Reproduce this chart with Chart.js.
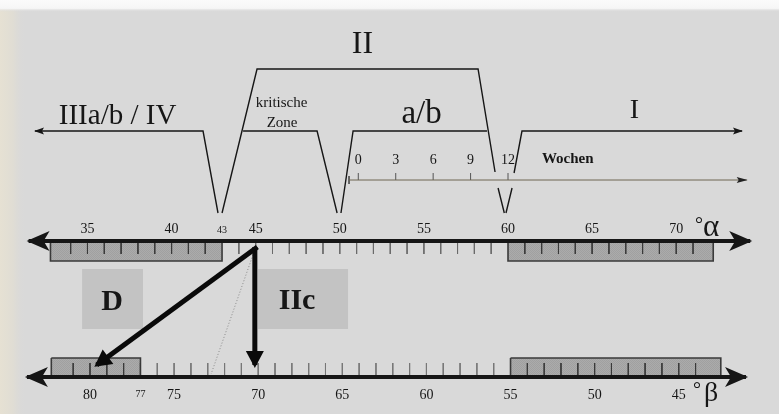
<!DOCTYPE html>
<html>
<head>
<meta charset="utf-8">
<script src="https://cdn.jsdelivr.net/npm/chart.js@4.4.1/dist/chart.umd.min.js"></script>
<style>
  html, body { margin: 0; padding: 0; background: #d9d9d9; }
  #wrap { width: 779px; height: 414px; position: relative; }
</style>
</head>
<body>
<div id="wrap"><canvas id="diagram"></canvas></div>
<script>
// tick labels of the two angle scales (alpha on top, beta below)
const alphaTicks = [35, 40, 43, 45, 50, 55, 60, 65, 70];
const betaTicks = [80, 77, 75, 70, 65, 60, 55, 50, 45];
const weekTicks = [0, 3, 6, 9, 12];

// stage borders on the alpha scale and the stage names
const zoneLimits = [43, 50, 60];
const stageNames = ['IIIa/b / IV', 'kritische Zone', 'a/b', 'I', 'II'];

// shaded ranges on both scales
const alphaRanges = [[32.8, 43], [60, 72.2]];
const betaRanges = [[82.3, 77], [55, 42.5]];

// projection from alpha 45 down to beta
const arrowStart = 45;
const arrowTargets = [79.6, 70];
const dottedTarget = 72.8;

// ---- layout ----
const ALPHA_MIN = 29.8, ALPHA_MAX = 76.11;
const betaPos = b => 115.15 - b;
const weekPos = w => 51.1 + w * (zoneLimits[2] - 51.1) / 12;
const Y = {
  top: 69, stage: 131, wkTop: 172, weeks: 180, vTop: 188, vBot: 213,
  alpha: 241, tickA: 254, boxA: 261, lblTop: 269, lblBot: 329,
  boxB: 358, tickB: 363, beta: 377
};
const INK = '#161616';
const SERIF = "'Liberation Serif', 'DejaVu Serif', serif";

const datasets = [];
function path(pts, opt) {
  let lastX = ALPHA_MIN;
  const data = pts.map(p => {
    if (!p) return { x: lastX, y: null };
    lastX = p[0];
    return { x: p[0], y: p[1] };
  });
  datasets.push(Object.assign({
    data, borderColor: INK, borderWidth: 1.4, pointRadius: 0,
    fill: false, order: 3, clip: false, spanGaps: false
  }, opt));
}
function ticks(list, y0, y1) {
  const pts = [];
  list.forEach(a => pts.push([a, y0], [a, y1], null));
  return pts;
}
const range = (from, to) => Array.from({ length: to - from + 1 }, (_, i) => from + i);
function rect(a0, a1, y0, y1) {
  return [[a0, y0], [a1, y0], [a1, y1], [a0, y1], [a0, y0]];
}

// shaded bars
const stipple = (() => {
  const c = document.createElement('canvas');
  c.width = 2; c.height = 2;
  const g = c.getContext('2d');
  g.fillStyle = '#ababab'; g.fillRect(0, 0, 2, 2);
  g.fillStyle = '#a0a0a0'; g.fillRect(0, 0, 1, 1); g.fillRect(1, 1, 1, 1);
  return g.createPattern(c, 'repeat');
})();
alphaRanges.forEach(([a0, a1]) =>
  path(rect(a0, a1, Y.alpha, Y.boxA), { fill: 'shape', backgroundColor: stipple, borderColor: '#3a3a3a', borderWidth: 1.6, order: 9 }));
betaRanges.forEach(([b0, b1]) =>
  path(rect(betaPos(b0), betaPos(b1), Y.boxB, Y.beta), { fill: 'shape', backgroundColor: stipple, borderColor: '#3a3a3a', borderWidth: 1.6, order: 9 }));

// label panels D and IIc
path(rect(34.68, 38.3, Y.lblTop, Y.lblBot), { fill: 'shape', backgroundColor: '#c3c3c3', borderWidth: 0, borderColor: 'rgba(0,0,0,0)', order: 9 });
path(rect(45.14, 50.49, Y.lblTop, Y.lblBot), { fill: 'shape', backgroundColor: '#c3c3c3', borderWidth: 0, borderColor: 'rgba(0,0,0,0)', order: 9 });

// degree ticks
path(ticks([...range(34, 42), ...range(61, 71)], Y.alpha, Y.tickA), { borderColor: '#3a3a3a', borderWidth: 1, order: 5 });
path(ticks(range(44, 59), Y.alpha, Y.tickA), { borderColor: '#6a6a6a', borderWidth: 1, order: 5 });
path(ticks([...range(77, 81), ...range(44, 54)].map(betaPos), Y.tickB, Y.beta), { borderColor: '#3a3a3a', borderWidth: 1, order: 5 });
path(ticks(range(56, 76).map(betaPos), Y.tickB, Y.beta), { borderColor: '#777', borderWidth: 1, order: 5 });

// stage outline
const [z1, z2, z3] = zoneLimits;
path([[z1 - 0.24, Y.vBot], [z1 - 1.13, Y.stage], [31.88, Y.stage]],
  { heads: [{ at: 'end', len: 10, half: 3.5, notch: 2, over: 1 }] });
path([[z1, Y.vBot], [z1 + 2.08, Y.top], [z3 - 1.78, Y.top], [z3 - 0.77, Y.wkTop]]);
path([[z1 + 1.25, Y.stage], [z2 - 1.35, Y.stage], [z2 - 0.16, Y.vBot]]);
path([[z2 + 0.07, Y.vBot], [z2 + 0.79, Y.stage], [z3 - 1.25, Y.stage]]);
path([[z3 + 0.36, Y.wkTop + 1], [z3 + 0.83, Y.stage], [73.91, Y.stage]],
  { heads: [{ at: 'end', len: 10, half: 3.5, notch: 2, over: 1 }] });
path([[z3 - 0.59, Y.vTop], [z3 - 0.22, Y.vBot], null, [z3 + 0.24, Y.vTop], [z3 - 0.12, Y.vBot]]);

// weeks axis
path([[50.55, Y.weeks], [74.19, Y.weeks]],
  { borderColor: '#6f6752', borderWidth: 1, heads: [{ at: 'end', len: 11, half: 3, notch: 2, over: 1, color: '#222' }] });
path([[50.55, Y.weeks - 4], [50.55, Y.weeks + 4], null, ...ticks(weekTicks.map(weekPos), Y.weeks, Y.weeks - 7)],
  { borderColor: '#555', borderWidth: 1, order: 4 });

// alpha and beta axes
const bigHead = { len: 23, half: 10, notch: 6, over: 2 };
path([[31.5, Y.alpha], [74.4, Y.alpha]], {
  borderWidth: 4, order: 2,
  heads: [{ at: 'start', ...bigHead }, { at: 'end', ...bigHead }]
});
path([[31.4, Y.beta], [74.15, Y.beta]], {
  borderWidth: 4, order: 2,
  heads: [{ at: 'start', ...bigHead }, { at: 'end', ...bigHead }]
});

// projection arrows and dotted guide
path([[arrowStart - 0.1, Y.alpha + 11], [betaPos(dottedTarget), Y.beta - 3]],
  { borderColor: '#8a8a8a', borderWidth: 1, borderDash: [1, 2], order: 4 });
arrowTargets.forEach(b => {
  const start = b === 70 ? arrowStart - 0.05 : arrowStart + 0.1;
  path([[start, Y.alpha + 6], [betaPos(b) - (b === 70 ? 0.2 : 0), Y.beta - 12]], {
    borderWidth: 5, order: 1, borderColor: '#0a0a0a',
    heads: [{ at: 'end', len: 17, half: 9, notch: 0, over: 3 }]
  });
});

// ---- texts ----
const texts = [];
function label(text, a, y, size, bold, color) {
  texts.push({ text, a, y, size, bold, color });
}
label(stageNames[0], 36.79, 124, 29);
const [krit, zone] = stageNames[1].split(' ');
label(krit, 46.54, 107, 15);
label(zone, 46.57, 127, 15);
label(stageNames[2], 54.86, 123, 33);
label(stageNames[3], 67.52, 118, 28);
label(stageNames[4], 51.35, 53, 32);
label('Wochen', 63.55, 163, 15, true);
weekTicks.forEach(w => label(String(w), weekPos(w), 164, 14));
alphaTicks.forEach(a => label(String(a), a, 233, a === 43 ? 10 : 14));
betaTicks.forEach(b => label(String(b), betaPos(b), b === 77 ? 397 : 399, b === 77 ? 10 : 14));
label('°', 71.36, 231, 20);
label('α', 72.07, 236, 31);
label('°', 71.24, 396, 20);
label('β', 72.07, 401, 28);
label('D', 36.46, 310, 30, true);
label('IIc', 47.46, 309, 30, true);

const paper = {
  id: 'paper',
  beforeDraw(chart) {
    const { ctx, width, height } = chart;
    ctx.save();
    ctx.fillStyle = '#d9d9d9';
    ctx.fillRect(0, 0, width, height);
    const g = ctx.createLinearGradient(0, 0, 26, 0);
    g.addColorStop(0, '#e6e1d3');
    g.addColorStop(0.5, '#e0ddd4');
    g.addColorStop(1, 'rgba(217,217,217,0)');
    ctx.fillStyle = g;
    ctx.fillRect(0, 0, 26, height);
    const t = ctx.createLinearGradient(0, 0, 0, 12);
    t.addColorStop(0, '#fbfbfb');
    t.addColorStop(0.7, '#f6f6f6');
    t.addColorStop(1, 'rgba(217,217,217,0)');
    ctx.fillStyle = t;
    ctx.fillRect(0, 0, width, 12);
    ctx.restore();
  }
};

const arrowHeads = {
  id: 'arrowHeads',
  afterDatasetsDraw(chart) {
    const ctx = chart.ctx;
    chart.data.datasets.forEach((d, i) => {
      if (!d.heads) return;
      const pts = chart.getDatasetMeta(i).data;
      d.heads.forEach(h => {
        const p = h.at === 'start' ? pts[0] : pts[pts.length - 1];
        const q = h.at === 'start' ? pts[1] : pts[pts.length - 2];
        const ang = Math.atan2(p.y - q.y, p.x - q.x);
        ctx.save();
        ctx.translate(p.x, p.y);
        ctx.rotate(ang);
        ctx.translate(h.over || 0, 0);
        ctx.beginPath();
        ctx.moveTo(0, 0);
        ctx.lineTo(-h.len, -h.half);
        ctx.lineTo(-h.len + h.notch, 0);
        ctx.lineTo(-h.len, h.half);
        ctx.closePath();
        ctx.fillStyle = h.color || d.borderColor;
        ctx.fill();
        ctx.restore();
      });
    });
  }
};

const textLayer = {
  id: 'textLayer',
  afterDatasetsDraw(chart) {
    const { ctx, scales } = chart;
    ctx.save();
    ctx.textAlign = 'center';
    ctx.textBaseline = 'alphabetic';
    texts.forEach(t => {
      ctx.font = (t.bold ? 'bold ' : '') + t.size + 'px ' + SERIF;
      ctx.fillStyle = t.color || INK;
      ctx.fillText(t.text, scales.x.getPixelForValue(t.a), scales.y.getPixelForValue(t.y));
    });
    ctx.restore();
  }
};

new Chart(document.getElementById('diagram'), {
  type: 'line',
  data: { datasets },
  options: {
    responsive: true,
    maintainAspectRatio: false,
    animation: false,
    events: [],
    layout: { padding: 0 },
    elements: { line: { tension: 0, borderCapStyle: 'butt' }, point: { radius: 0 } },
    plugins: { legend: { display: false }, tooltip: { enabled: false } },
    scales: {
      x: { type: 'linear', min: ALPHA_MIN, max: ALPHA_MAX, display: false },
      y: { type: 'linear', min: 0, max: 414, reverse: true, display: false }
    }
  },
  plugins: [paper, arrowHeads, textLayer]
});
</script>
</body>
</html>
